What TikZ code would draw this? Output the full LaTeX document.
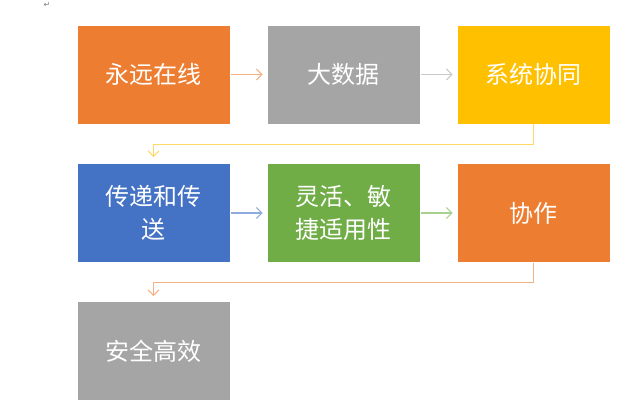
\documentclass[tikz,border=0pt]{standalone}
\usepackage{fontspec}
\setmainfont{Noto Sans CJK SC}
\newfontfamily\symfont{DejaVu Sans}
\usepackage{xcolor}
\usetikzlibrary{arrows.meta}
\definecolor{boxorange}{HTML}{ED7D31}
\definecolor{boxgray}{HTML}{A5A5A5}
\definecolor{boxyellow}{HTML}{FFC000}
\definecolor{boxblue}{HTML}{4472C4}
\definecolor{boxgreen}{HTML}{70AD47}
\definecolor{lnorange}{HTML}{F4B183}
\definecolor{lngray}{HTML}{C9C9C9}
\definecolor{lnyellow}{HTML}{FFD966}
\definecolor{lnblue}{HTML}{8FAADC}
\definecolor{lngreen}{HTML}{A9D18E}

\tikzset{
    stagebox/.style={draw=white, line width=0.8pt, text=white, minimum width=153pt,
        minimum height=99pt, align=center, inner sep=0pt,
        font=\fontsize{24}{33}\selectfont},
    flowline/.style={line width=1.1pt, -{Straight Barb[length=5.5pt,width=11pt]}}
}

\begin{document}
\begin{tikzpicture}[x=1pt,y=-1pt]
    \useasboundingbox (0,0) rectangle (644,417);
    \node[text=gray, font=\symfont\fontsize{8}{8}\selectfont] (mark) at (47,5) {↵};
    % first row
    \node[stagebox, fill=boxorange] (online) at (153.5,74.5) {永远在线};
    \node[stagebox, fill=boxgray] (bigdata) at (343.5,74.5) {大数据};
    \node[stagebox, fill=boxyellow] (system) at (533.5,74.5) {系统协同};
    % second row
    \node[stagebox, fill=boxblue] (deliver) at (153.5,213) {传递和传\\送};
    \node[stagebox, fill=boxgreen] (agile) at (343.5,213) {灵活、敏\\捷适用性};
    \node[stagebox, fill=boxorange] (coop) at (533.5,213) {协作};
    % third row
    \node[stagebox, fill=boxgray] (secure) at (153.5,351) {安全高效};

    \draw[flowline, lnorange, shorten <=1pt, shorten >=4pt] (online) -- (bigdata);
    \draw[flowline, lngray, shorten <=1pt, shorten >=4pt] (bigdata) -- (system);
    \draw[flowline, lnblue, shorten <=1pt, shorten >=4pt] (deliver) -- (agile);
    \draw[flowline, lngreen, shorten <=1pt, shorten >=4pt] (agile) -- (coop);
    \draw[flowline, lnyellow, shorten >=6pt] (system.south) -- ++(0,20) -| (deliver.north);
    \draw[flowline, lnorange, shorten >=5pt] (coop.south) -- ++(0,20) -| (secure.north);
\end{tikzpicture}
\end{document}
